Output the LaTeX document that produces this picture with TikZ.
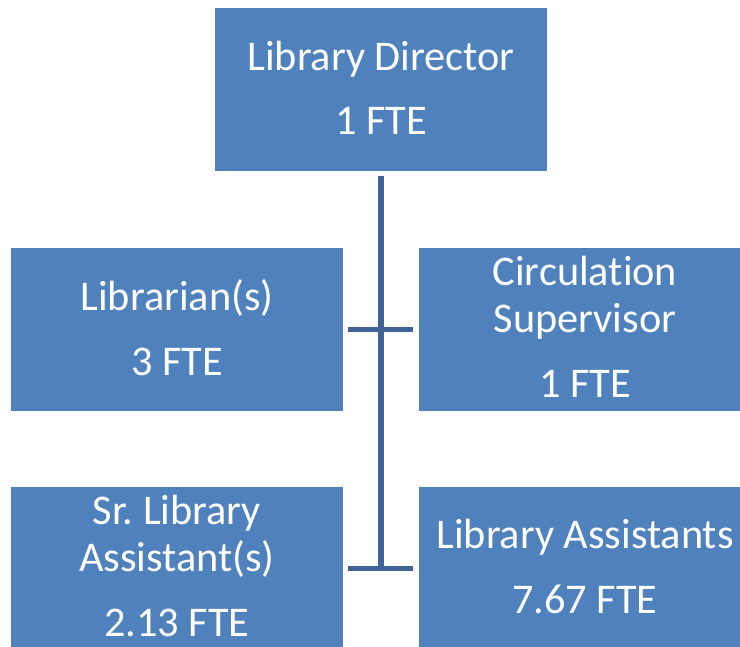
\documentclass[tikz,border=0pt]{standalone}
\usepackage{fontspec}
\setmainfont{Carlito}[Ligatures=NoCommon]
\frenchspacing
\definecolor{boxblue}{HTML}{4F81BD}
\definecolor{linkblue}{RGB}{64,100,150}
\begin{document}
\begin{tikzpicture}[x=1pt,y=-1pt,
  box/.style={rectangle, fill=boxblue, draw=none, minimum width=332pt, minimum height=163pt, inner sep=0pt, outer sep=0pt},
  txt/.style={text=white, anchor=base, inner sep=0pt, font=\fontsize{42.3}{47}\selectfont},
  conn/.style={draw=linkblue, line width=5.5pt, line cap=butt}]
\useasboundingbox (0,0) rectangle (740,647);
\setlength{\tabcolsep}{0pt}
\node[box] (dir) at (381,89.5) {};
\node[box] (lib) at (177,329.5) {};
\node[box] (circ) at (585,329.5) {};
\node[box] (sr) at (177,568.5) {};
\node[box] (la) at (585,568.5) {};
\node[txt] (tdir) at (381,70.5) {\begin{tabular}[t]{@{}c@{}}Library Director\\[17pt]1 FTE\end{tabular}};
\node[txt] (tlib) at (177,310.5) {\begin{tabular}[t]{@{}c@{}}Librarian(s)\\[18pt]3 FTE\end{tabular}};
\node[txt] (tcirc) at (585,285.5) {\begin{tabular}[t]{@{}c@{}}Circulation\\Supervisor\\[18pt]1 FTE\end{tabular}};
\node[txt] (tsr) at (177,524.5) {\begin{tabular}[t]{@{}c@{}}Sr. Library\\Assistant(s)\\[18pt]2.13 FTE\end{tabular}};
\node[txt] (tla) at (585,548.5) {\begin{tabular}[t]{@{}c@{}}Library Assistants\\[18pt]7.67 FTE\end{tabular}};
\draw[conn, shorten <=5pt] (dir.south) -- (dir.south |- sr.east);
\draw[conn, shorten <=5pt, shorten >=6pt] (lib.east) -- (circ.west);
\draw[conn, shorten <=5pt, shorten >=6pt] (sr.east) -- (la.west);
\end{tikzpicture}
\end{document}
